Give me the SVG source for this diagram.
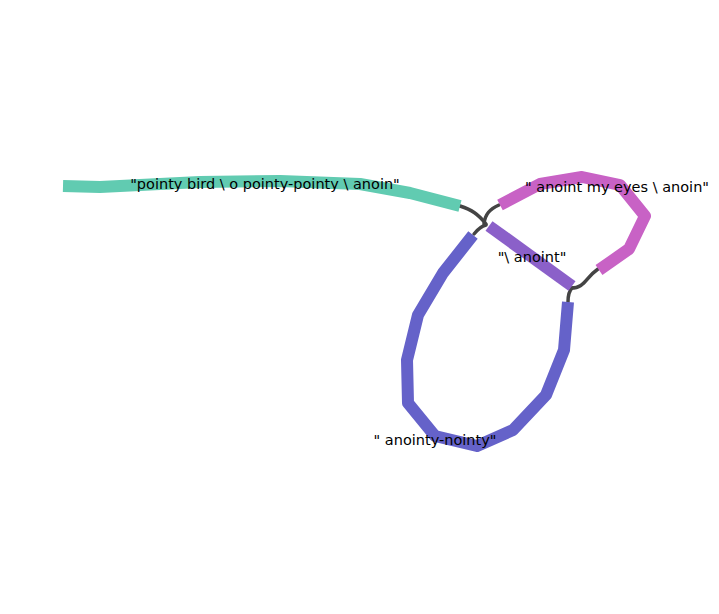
<svg xmlns="http://www.w3.org/2000/svg" width="719" height="614" viewBox="0 0 719 614">
<style>
.seg{fill:none;stroke-width:12;stroke-linejoin:round;stroke-linecap:butt}
.edge{fill:none;stroke:#444;stroke-width:3.5;stroke-linecap:round}
.lbl{font-family:"DejaVu Sans",sans-serif;font-size:14.5px;fill:#000;text-anchor:middle}
</style>
<rect width="719" height="614" fill="#fff"/>
<g id="connectors">
<path class="edge" d="M460,206 C472,210 478,214 486,224"/>
<path class="edge" d="M499,205 C490,209 485,214 484,224"/>
<path class="edge" d="M474,234 C478,229 482,226 486,225"/>
<path class="edge" d="M571,288 C585,288 585,278 598,269"/>
<path class="edge" d="M568,302 C568,296 569,291 572,288"/>
</g>
<g id="node1">
<path class="seg" stroke="#61cbb1" d="M63,186 L100,187 L140,185 L200,182 L280,181 L360,184 L410,193 L460,206"/>
<text class="lbl" x="265" y="189">"pointy bird \ o pointy-pointy \ anoin"</text>
</g>
<g id="node2">
<path class="seg" stroke="#c862c5" d="M500,205 L540,184 L582,177 L620,185 L645,216 L629,249 L599,270"/>
<text class="lbl" x="617" y="192">" anoint my eyes \ anoin"</text>
</g>
<g id="node3">
<path class="seg" stroke="#8b60c9" d="M489,226 L572,286"/>
<text class="lbl" x="532" y="262">"\ anoint"</text>
</g>
<g id="node4">
<path class="seg" stroke="#6562c9" d="M473,235 L443,273 L418,315 L407,360 L408,403 L435,436 L477,446 L513,430 L546,395 L564,350 L568,302"/>
<text class="lbl" x="435" y="445">" anointy-nointy"</text>
</g>
</svg>
